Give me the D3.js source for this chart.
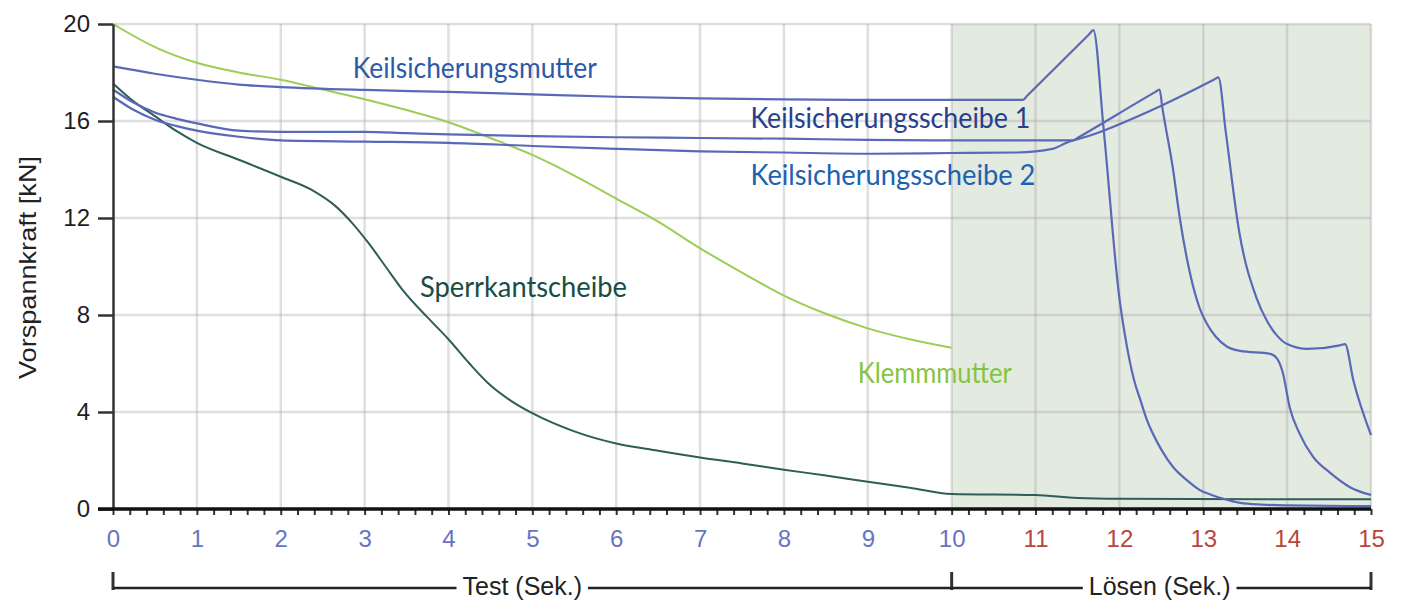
<!DOCTYPE html>
<html>
<head>
<meta charset="utf-8">
<script src="https://cdn.jsdelivr.net/npm/d3@7"></script>
<style>
  body { margin: 0; background: #fff; }
  svg { display: block; }
</style>
</head>
<body>
<script>
// chart values (x = seconds, y = kN)
const keilMutter = [[0,18.25],[0.5,17.95],[1,17.7],[1.5,17.5],[2,17.4],[3,17.28],[4,17.2],[5,17.1],[6,17.0],[7,16.93],[8,16.89],[9,16.87],[10.85,16.87],[10.9,17.04],[11.64,19.58],[11.69,19.75],[11.81,15.75],[12.0,8.7],[12.06,7.3],[12.12,6.15],[12.18,5.25],[12.25,4.5],[12.32,3.75],[12.4,3.1],[12.5,2.45],[12.64,1.73],[12.8,1.2],[12.96,0.78],[13.1,0.58],[13.24,0.42],[13.44,0.25],[13.7,0.18],[14,0.15],[15,0.12]];
const keilScheibe1 = [[0,17.3],[0.25,16.75],[0.5,16.35],[0.75,16.1],[1,15.9],[1.5,15.6],[2,15.55],[3,15.55],[3.5,15.5],[4,15.45],[5,15.38],[6,15.33],[7,15.3],[8,15.27],[9,15.22],[10,15.2],[11.45,15.2],[11.5,15.3],[12.43,17.2],[12.48,17.3],[12.51,16.6],[12.64,14.0],[12.72,12.0],[12.85,9.6],[12.95,8.35],[13.05,7.6],[13.15,7.1],[13.28,6.7],[13.44,6.52],[13.8,6.4],[13.88,6.2],[13.95,5.6],[14.03,4.2],[14.15,3.1],[14.31,2.15],[14.51,1.5],[14.75,0.9],[15,0.58]];
const keilScheibe2 = [[0,17.0],[0.25,16.45],[0.5,16.05],[0.75,15.8],[1,15.6],[1.5,15.35],[2,15.2],[3,15.15],[4,15.1],[5,14.97],[6,14.85],[7,14.75],[8,14.7],[9,14.65],[10,14.68],[10.78,14.7],[11.2,14.85],[11.37,15.1],[11.65,15.4],[12.48,16.6],[13.13,17.71],[13.18,17.8],[13.27,15.5],[13.43,11.4],[13.63,8.75],[13.76,7.75],[13.88,7.15],[14.0,6.8],[14.24,6.6],[14.63,6.75],[14.69,6.8],[14.79,5.3],[15,3.05]];
const sperrkant = [[0,17.55],[0.25,16.8],[0.5,16.2],[0.75,15.6],[1,15.1],[1.5,14.4],[2,13.7],[2.4,13.1],[2.65,12.5],[2.85,11.8],[3.05,10.95],[3.25,10.0],[3.45,9.05],[3.75,7.9],[4,7.0],[4.25,6.0],[4.5,5.1],[4.75,4.45],[5,3.95],[5.5,3.2],[6,2.7],[6.5,2.4],[7,2.12],[7.5,1.88],[8,1.62],[8.5,1.38],[9,1.12],[9.5,0.88],[10,0.62],[11,0.58],[11.5,0.45],[12,0.42],[15,0.4]];
const klemmMutter = [[0,20],[0.5,19.05],[1,18.4],[1.5,18.0],[2,17.7],[2.5,17.3],[3,16.9],[3.5,16.45],[4,15.95],[4.5,15.3],[5,14.6],[5.5,13.75],[6,12.8],[6.5,11.85],[7,10.75],[7.5,9.75],[8,8.8],[8.5,8.05],[9,7.45],[9.5,7.0],[10,6.65]];

const Y_TICKS = [0, 4, 8, 12, 16, 20];
const X_TICKS = d3.range(0, 16);
const TEST_END = 10;   // test phase ends, loosening starts
const X_MAX = 15;

const WIDTH = 1401, HEIGHT = 602;

const svg = d3.select("body").append("svg")
  .attr("width", WIDTH)
  .attr("height", HEIGHT);

const X = d3.scaleLinear().domain([0, X_MAX]).range([113, 1371]);
const Y = d3.scaleLinear().domain([0, 20]).range([509, 24]);

// shaded loosening zone
svg.append("rect")
  .attr("x", X(TEST_END)).attr("y", Y(20))
  .attr("width", X(X_MAX) - X(TEST_END))
  .attr("height", Y(0) - Y(20))
  .attr("fill", "#e3eae0");

// grid
const grid = svg.append("g").attr("stroke", "rgba(170,165,165,0.36)").attr("stroke-width", 2.5);
grid.selectAll("line.v").data(X_TICKS.slice(1)).enter().append("line")
  .attr("x1", d => X(d)).attr("x2", d => X(d))
  .attr("y1", Y(20)).attr("y2", Y(0));
grid.selectAll("line.h").data(Y_TICKS.slice(1)).enter().append("line")
  .attr("x1", X(0)).attr("x2", X(X_MAX))
  .attr("y1", d => Y(d)).attr("y2", d => Y(d));

// curves
const lineSmooth = d3.line().x(d => X(d[0])).y(d => Y(d[1])).curve(d3.curveMonotoneX);

svg.append("path").datum(klemmMutter).attr("d", lineSmooth)
  .attr("fill", "none").attr("stroke", "#9ccd55").attr("stroke-width", 2);
svg.append("path").datum(sperrkant).attr("d", lineSmooth)
  .attr("fill", "none").attr("stroke", "#2f5d58").attr("stroke-width", 2);
[keilMutter, keilScheibe1, keilScheibe2].forEach(s => {
  svg.append("path").datum(s).attr("d", lineSmooth)
    .attr("fill", "none").attr("stroke", "#5a68b8").attr("stroke-width", 2.2)
    .attr("stroke-linejoin", "round");
});

// y axis
const yAxis = svg.append("g")
  .attr("transform", "translate(" + X(0) + ",0)")
  .call(d3.axisLeft(Y).tickValues(Y_TICKS).tickSize(15).tickPadding(8).tickSizeOuter(0));
yAxis.select(".domain").attr("stroke", "#333").attr("stroke-width", 2.5);
yAxis.selectAll(".tick line").attr("stroke", "#333").attr("stroke-width", 2.5);
yAxis.selectAll("text").attr("font-family", "Liberation Sans, Arial, sans-serif")
  .attr("font-size", 24).attr("fill", "#1e1e1e");

// x axis minor ticks
const xMinor = svg.append("g")
  .attr("transform", "translate(0," + Y(0) + ")")
  .call(d3.axisBottom(X).tickValues(d3.range(0, 76).map(i => i / 5)).tickSize(6).tickFormat(""));
xMinor.select(".domain").remove();
xMinor.selectAll(".tick line").attr("stroke", "#333").attr("stroke-width", 2);

// x axis line (runs a bit left of the y axis)
svg.append("line")
  .attr("x1", X(0) - 15).attr("x2", X(X_MAX))
  .attr("y1", Y(0)).attr("y2", Y(0))
  .attr("stroke", "#111").attr("stroke-width", 3.5);

// x labels
const xLab = svg.append("g")
  .attr("transform", "translate(0," + Y(0) + ")")
  .call(d3.axisBottom(X).tickValues(X_TICKS).tickSize(0).tickPadding(21).tickFormat(d3.format("d")));
xLab.select(".domain").remove();
xLab.selectAll("text").attr("font-family", "Liberation Sans, Arial, sans-serif")
  .attr("font-size", 24)
  .attr("fill", d => d <= TEST_END ? "#6674c2" : "#b8453c");

// y axis title
svg.append("text")
  .attr("transform", "translate(36," + ((Y(0) + Y(20)) / 2 + 1) + ") rotate(-90)")
  .attr("text-anchor", "middle")
  .attr("font-family", "Liberation Sans, Arial, sans-serif")
  .attr("font-size", 24)
  .attr("fill", "#222")
  .attr("textLength", 223).attr("lengthAdjust", "spacingAndGlyphs")
  .text("Vorspannkraft [kN]");

// bottom brackets
const BR_Y = 588;
const br = svg.append("g");
[0, TEST_END, X_MAX].forEach(v => {
  br.append("line").attr("x1", X(v)).attr("x2", X(v)).attr("y1", 572).attr("y2", BR_Y + 2)
    .attr("stroke", "#333").attr("stroke-width", 3);
});
const phases = [
  {label: "Test (Sek.)", from: 0, to: TEST_END, mid: 4.88},
  {label: "Lösen (Sek.)", from: TEST_END, to: X_MAX, mid: 12.48}
];
phases.forEach(p => {
  const t = br.append("text")
    .attr("x", X(p.mid)).attr("y", 595)
    .attr("text-anchor", "middle")
    .attr("font-family", "Liberation Sans, Arial, sans-serif")
    .attr("font-size", 25).attr("fill", "#222")
    .text(p.label);
  const bb = t.node().getBBox();
  br.append("line").attr("x1", X(p.from)).attr("x2", bb.x - 6)
    .attr("y1", BR_Y).attr("y2", BR_Y).attr("stroke", "#222").attr("stroke-width", 2.5);
  br.append("line").attr("x1", bb.x + bb.width + 6).attr("x2", X(p.to))
    .attr("y1", BR_Y).attr("y2", BR_Y).attr("stroke", "#222").attr("stroke-width", 2.5);
});

// series labels
const labels = [
  {text: "Keilsicherungsmutter", x: 2.86, y: 17.77, len: 244, color: "#2b5aa8"},
  {text: "Keilsicherungsscheibe 1", x: 7.6, y: 15.71, len: 280, color: "#283f8c"},
  {text: "Keilsicherungsscheibe 2", x: 7.6, y: 13.36, len: 285, color: "#1c62b0"},
  {text: "Sperrkantscheibe", x: 3.66, y: 8.74, len: 207, color: "#174d46"},
  {text: "Klemmmutter", x: 8.88, y: 5.2, len: 154, color: "#86c440"}
];
svg.append("g").selectAll("text").data(labels).enter().append("text")
  .attr("x", d => X(d.x)).attr("y", d => Y(d.y))
  .attr("font-family", "Lato, 'Noto Sans', sans-serif")
  .attr("font-size", 28)
  .attr("fill", d => d.color)
  .attr("textLength", d => d.len).attr("lengthAdjust", "spacingAndGlyphs")
  .text(d => d.text);
</script>
</body>
</html>
